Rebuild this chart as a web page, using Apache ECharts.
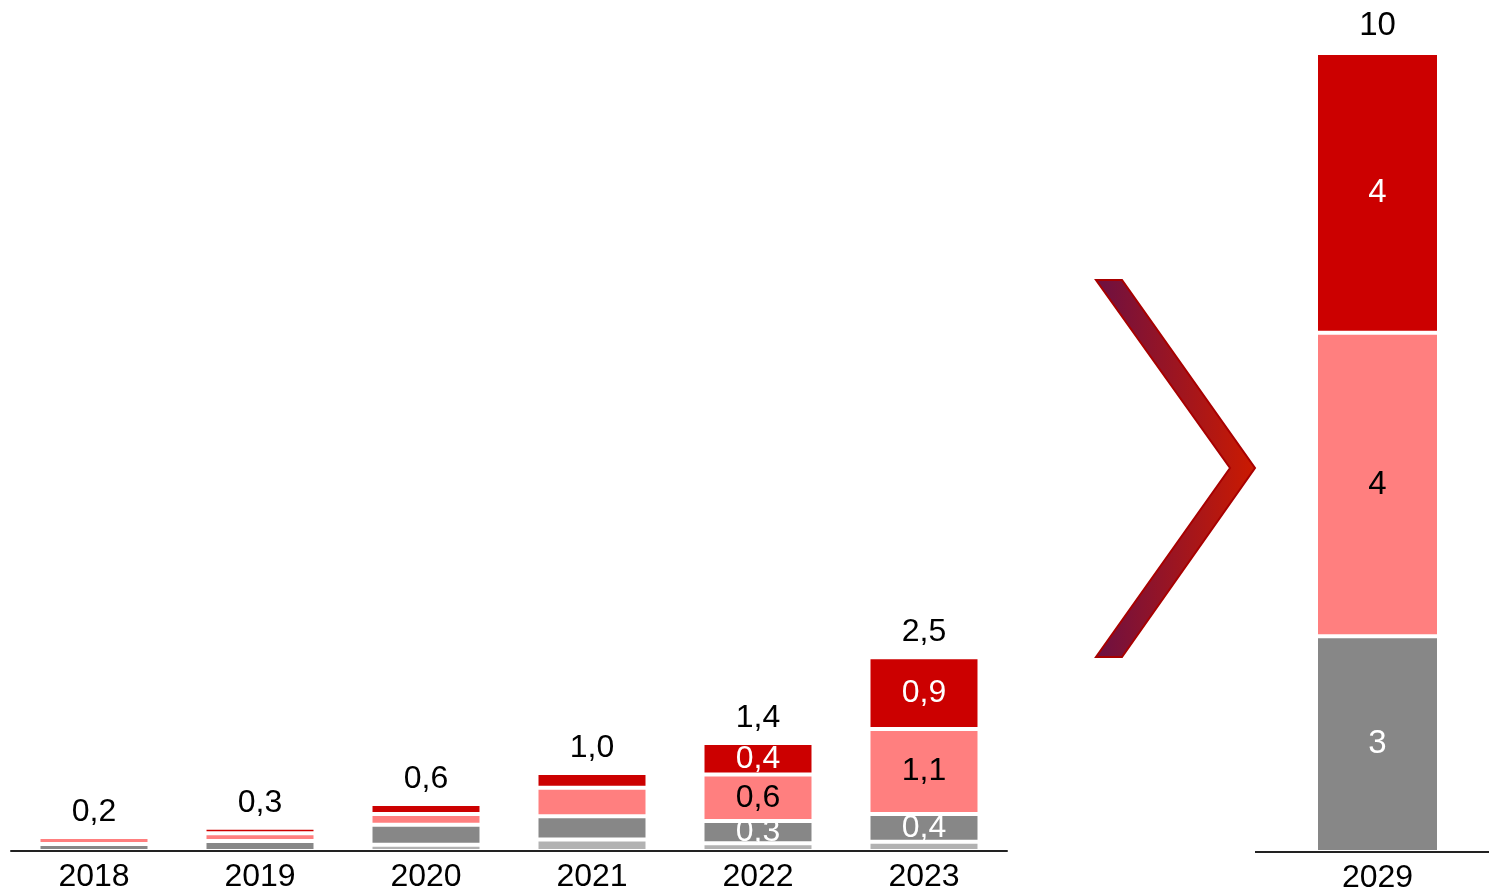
<!DOCTYPE html>
<html><head><meta charset="utf-8">
<script src="https://cdn.jsdelivr.net/npm/echarts@6/dist/echarts.min.js"></script>
<style>html,body{margin:0;padding:0;background:#fff}#c{width:1489px;height:896px}</style>
</head><body><div id="c"></div>
<script>
// ---- data ----
const years = ['2018', '2019', '2020', '2021', '2022', '2023'];
const lightGrey = [null, null, 0.08, 0.15, 0.10, 0.12];
const darkGrey = [0.09, 0.13, 0.26, 0.30, 0.29, 0.36];
const pink = [0.09, 0.10, 0.14, 0.37, 0.60, 1.10];
const red = [null, 0.07, 0.13, 0.19, 0.41, 0.93];
const labeledYears = ['2022', '2023'];

const forecastYears = ['2029'];
const fDarkGrey = [2.7];
const fPink = [3.8];
const fRed = [3.5];

// ---- styling ----
const FONT = "'Liberation Sans', Arial, sans-serif";
const C_LG = '#b2b2b2', C_DG = '#878787', C_PK = '#ff7f7f', C_RD = '#cc0000';

function fmt1(v) { return v.toFixed(1).replace('.', ','); }
function sumAt(arrs, i) { let s = 0; arrs.forEach(a => { if (a[i] != null) s += a[i]; }); return s; }

function segLabel(color, left) {
  return {
    show: true, position: 'inside', color: color, fontSize: left ? 32 : 33, fontFamily: FONT,
    formatter: p => {
      if (left) return labeledYears.indexOf(p.name) >= 0 ? fmt1(p.value) : '';
      return String(Math.round(p.value));
    }
  };
}
function seg(name, data, color, labelColor, left) {
  return {
    type: 'bar', name: name, stack: left ? 'hist' : 'fc',
    xAxisIndex: left ? 0 : 1, yAxisIndex: left ? 0 : 1,
    data: data, barWidth: left ? 111 : 123,
    itemStyle: { color: color, borderColor: '#fff', borderWidth: 2 },
    label: labelColor ? segLabel(labelColor, left) : { show: false },
    emphasis: { disabled: true }, z: 2
  };
}
function totalSeries(left) {
  const arrs = left ? [lightGrey, darkGrey, pink, red] : [fDarkGrey, fPink, fRed];
  const cats = left ? years : forecastYears;
  return {
    type: 'bar', stack: left ? 'hist' : 'fc',
    xAxisIndex: left ? 0 : 1, yAxisIndex: left ? 0 : 1,
    data: cats.map(() => 0), barWidth: left ? 111 : 123,
    itemStyle: { color: 'transparent', borderWidth: 0 },
    label: {
      show: true, position: 'top', distance: left ? 9 : 11, color: '#000',
      fontSize: left ? 32 : 33, fontFamily: FONT,
      formatter: p => {
        const s = sumAt(arrs, p.dataIndex);
        return left ? fmt1(s) : String(Math.round(s));
      }
    },
    emphasis: { disabled: true }, z: 3
  };
}

const axisX = (cats, idx) => ({
  type: 'category', data: cats, gridIndex: idx, z: 10,
  axisLine: { show: true, lineStyle: { color: '#222', width: 2 } },
  axisTick: { show: false },
  axisLabel: { color: '#000', fontSize: 32, fontFamily: FONT, margin: 10 },
  splitLine: { show: false }
});
const axisY = (idx, max) => ({
  type: 'value', gridIndex: idx, min: 0, max: max, show: false, splitLine: { show: false }
});

const chart = echarts.init(document.getElementById('c'), null, { renderer: 'canvas' });
chart.setOption({
  animation: false,
  backgroundColor: '#fff',
  grid: [
    { left: 11, width: 996, top: 10, bottom: 45 },
    { left: 1266, right: 0, top: 53, bottom: 44 }
  ],
  xAxis: [axisX(years, 0), axisX(forecastYears, 1)],
  yAxis: [axisY(0, 10.89), axisY(1, 10)],
  graphic: [{
    type: 'polygon', z: 5,
    shape: { points: [[1096, 280], [1122, 280], [1255, 468], [1122, 657], [1096, 657], [1230, 468]] },
    style: {
      fill: new echarts.graphic.LinearGradient(0, 0, 1, 0, [
        { offset: 0, color: '#6c1042' }, { offset: 1, color: '#cc1a00' }
      ]),
      stroke: '#a80000', lineWidth: 2
    }
  }, {
    type: 'line', z: 10,
    shape: { x1: 1255, y1: 852, x2: 1267, y2: 852 },
    style: { stroke: '#222', lineWidth: 2 }
  }],
  series: [
    seg('lg', lightGrey, C_LG, null, true),
    seg('dg', darkGrey, C_DG, '#fff', true),
    seg('pk', pink, C_PK, '#000', true),
    seg('rd', red, C_RD, '#fff', true),
    totalSeries(true),
    seg('fdg', fDarkGrey, C_DG, '#fff', false),
    seg('fpk', fPink, C_PK, '#000', false),
    seg('frd', fRed, C_RD, '#fff', false),
    totalSeries(false)
  ]
});
</script></body></html>
